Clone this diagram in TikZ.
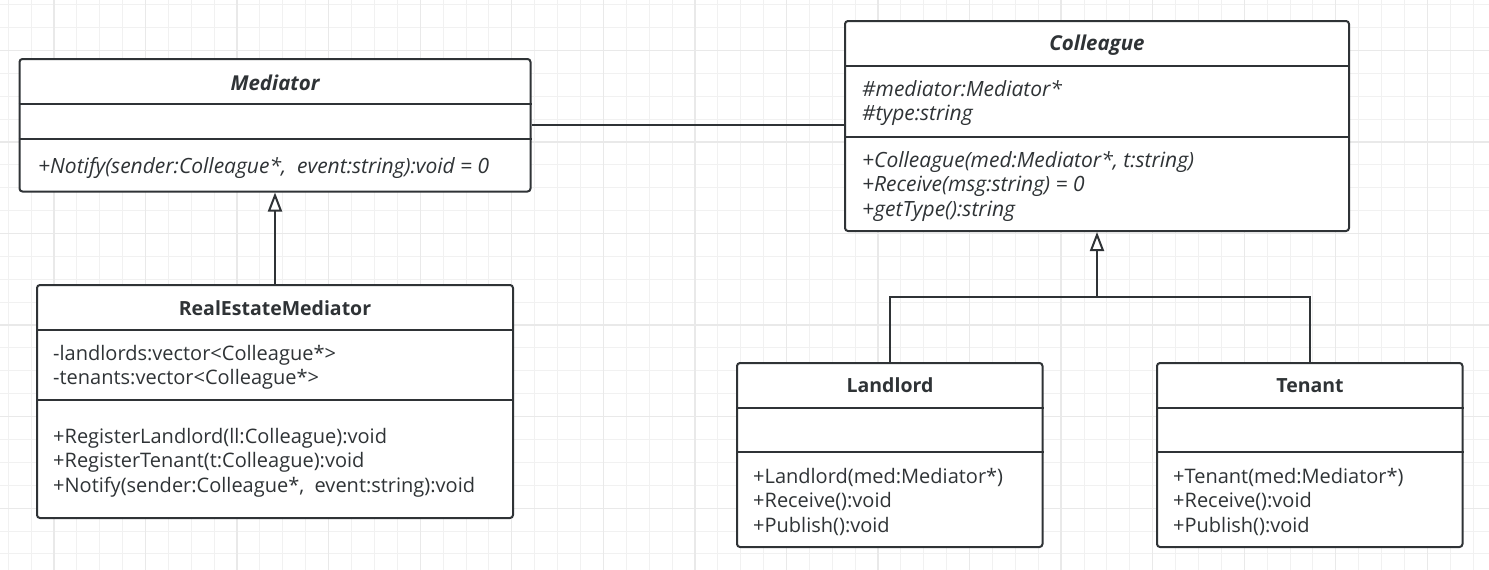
\documentclass[tikz,border=0pt]{standalone}
\usepackage{fontspec}
\setmainfont{Open Sans}
\usetikzlibrary{arrows.meta}
\definecolor{umlline}{HTML}{2F3336}
\definecolor{gridlo}{HTML}{F1F1F1}
\definecolor{gridhi}{HTML}{E9E9E9}

\begin{document}
\begin{tikzpicture}
  [x=1pt,y=-1pt,
   classbox/.style={draw=umlline,line width=2,fill=white,rounded corners=3,inner sep=0,outer sep=1},
   classname/.style={anchor=base,inner sep=0,text=umlline,font=\fontsize{19.5}{22}\selectfont\bfseries},
   absname/.style={classname,font=\fontsize{20.5}{22}\selectfont\bfseries\itshape},
   member/.style={anchor=base west,inner sep=0,text=umlline,font=\fontsize{20}{22}\selectfont},
   absmember/.style={member,font=\fontsize{21}{22}\selectfont\itshape},
   divline/.style={draw=umlline,line width=2},
   assoc/.style={draw=umlline,line width=2},
   inherit/.style={assoc,-{Triangle[open,length=19,width=14]}}]

  \useasboundingbox (0,0) rectangle (1489,570);
  \foreach \i in {0,...,64}
    \draw[gridlo,line width=1] ({8.2+\i*22.89},0) -- ({8.2+\i*22.89},570);
  \foreach \j in {0,...,24}
    \draw[gridlo,line width=1] (0,{4.6+\j*22.89}) -- (1489,{4.6+\j*22.89});
  \foreach \k in {0,...,15}
    \draw[gridhi,line width=1.3] ({54+\k*91.55},0) -- ({54+\k*91.55},570);
  \foreach \k in {0,...,5}
    \draw[gridhi,line width=1.3] (0,{50.4+\k*91.55}) -- (1489,{50.4+\k*91.55});

  \node[classbox,minimum width=511,minimum height=132.5] (med) at (275,125.25) {};
  \node[classbox,minimum width=504,minimum height=210] (col) at (1097,126) {};
  \node[classbox,minimum width=476,minimum height=233] (rem) at (275,401.5) {};
  \node[classbox,minimum width=305.5,minimum height=184] (land) at (889.75,455) {};
  \node[classbox,minimum width=305.5,minimum height=184] (ten) at (1309.75,455) {};

  \draw[divline] (med.west |- 0,103.5) -- (med.east |- 0,103.5);
  \draw[divline] (med.west |- 0,138.5) -- (med.east |- 0,138.5);
  \draw[divline] (col.west |- 0,65.5) -- (col.east |- 0,65.5);
  \draw[divline] (col.west |- 0,137) -- (col.east |- 0,137);
  \draw[divline] (rem.west |- 0,330) -- (rem.east |- 0,330);
  \draw[divline] (rem.west |- 0,400) -- (rem.east |- 0,400);
  \draw[divline] (land.west |- 0,407.5) -- (land.east |- 0,407.5);
  \draw[divline] (land.west |- 0,452) -- (land.east |- 0,452);
  \draw[divline] (ten.west |- 0,407.5) -- (ten.east |- 0,407.5);
  \draw[divline] (ten.west |- 0,452) -- (ten.east |- 0,452);

  \node[absname] (medname) at (275,90) {Mediator};
  \node[absmember] (medm1) at (38,173.3) {+Notify(sender:Colleague*,~ event:string):void = 0};

  \node[absname] (colname) at (1097,50.7) {Colleague};
  \node[absmember] (cola1) at (862,96) {\#mediator:Mediator*};
  \node[absmember] (cola2) at (862,120.5) {\#type:string};
  \node[absmember] (colm1) at (862,167) {+Colleague(med:Mediator*, t:string)};
  \node[absmember] (colm2) at (862,191.5) {+Receive(msg:string) = 0};
  \node[absmember] (colm3) at (862,216) {+getType():string};

  \node[classname] (remname) at (275,315) {RealEstateMediator};
  \node[member] (rema1) at (53,360) {-landlords:vector<Colleague*>};
  \node[member] (rema2) at (53,384.5) {-tenants:vector<Colleague*>};
  \node[member] (remm1) at (53,443) {+RegisterLandlord(ll:Colleague):void};
  \node[member] (remm2) at (53,467.5) {+RegisterTenant(t:Colleague):void};
  \node[member] (remm3) at (53,492) {+Notify(sender:Colleague*,~ event:string):void};

  \node[classname] (landname) at (890,392.7) {Landlord};
  \node[member] (landm1) at (753,483.5) {+Landlord(med:Mediator*)};
  \node[member] (landm2) at (753,507.5) {+Receive():void};
  \node[member] (landm3) at (753,532) {+Publish():void};

  \node[classname] (tenname) at (1310,392.7) {Tenant};
  \node[member] (tenm1) at (1173,483.5) {+Tenant(med:Mediator*)};
  \node[member] (tenm2) at (1173,507.5) {+Receive():void};
  \node[member] (tenm3) at (1173,532) {+Publish():void};

  \coordinate (fork) at (1097,296.5);
  \draw[assoc] (med.east) -- (col.west |- med.east);
  \draw[assoc] (land.north) |- (fork) -| (ten.north);
  \foreach \from/\to in {rem/med,fork/col}
    \draw[inherit] (\from) -- (\to);
\end{tikzpicture}
\end{document}
